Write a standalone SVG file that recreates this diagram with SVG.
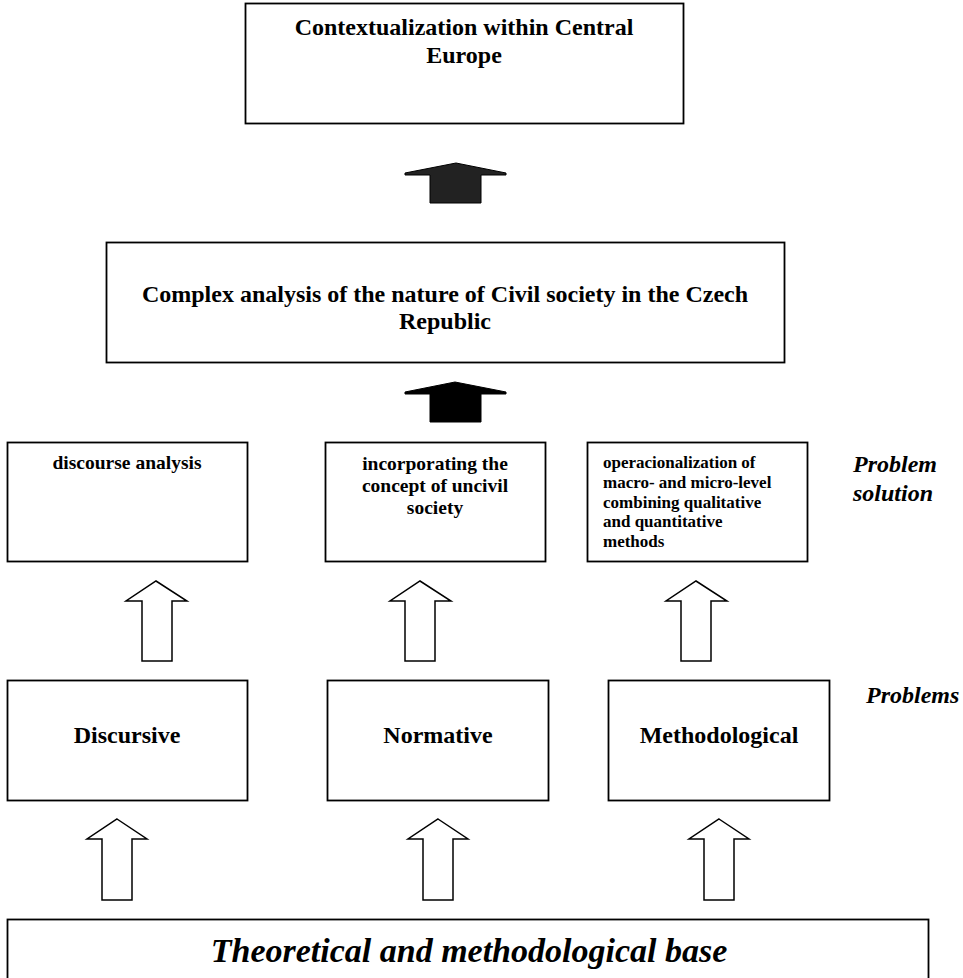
<svg xmlns="http://www.w3.org/2000/svg" width="963" height="978" viewBox="0 0 963 978">
<style>
.box{fill:#fff;stroke:#000;stroke-width:1.8}
.h{font-family:"Liberation Serif","Times New Roman",serif;font-weight:bold;fill:#000}
.hi{font-family:"Liberation Serif","Times New Roman",serif;font-weight:bold;font-style:italic;fill:#000}
.hollow{fill:#fff;stroke:#000;stroke-width:1.5;stroke-linejoin:miter}
.solid{stroke:#000;stroke-width:1}
</style>
<rect width="963" height="978" fill="#fff"/>
<g id="node-context">
<rect class="box" x="245.5" y="3.5" width="438" height="120"/>
<text class="h" font-size="24" text-anchor="middle" x="464" y="35">Contextualization within Central</text>
<text class="h" font-size="24" text-anchor="middle" x="464" y="63">Europe</text>
</g>
<g id="node-complex">
<rect class="box" x="106.5" y="242.5" width="678" height="120"/>
<text class="h" font-size="24" text-anchor="middle" x="445" y="302">Complex analysis of the nature of Civil society in the Czech</text>
<text class="h" font-size="24" text-anchor="middle" x="445" y="329">Republic</text>
</g>
<g id="node-sol1">
<rect class="box" x="7.5" y="442.5" width="240" height="119"/>
<text class="h" font-size="19.5" text-anchor="middle" x="127" y="469">discourse analysis</text>
</g>
<g id="node-sol2">
<rect class="box" x="325.5" y="442.5" width="220" height="119"/>
<text class="h" font-size="19.5" text-anchor="middle" x="435" y="470">incorporating the</text>
<text class="h" font-size="19.5" text-anchor="middle" x="435" y="492">concept of uncivil</text>
<text class="h" font-size="19.5" text-anchor="middle" x="435" y="514">society</text>
</g>
<g id="node-sol3">
<rect class="box" x="587.5" y="442.5" width="220" height="119"/>
<text class="h" font-size="17" x="603" y="468">operacionalization of</text>
<text class="h" font-size="17" x="603" y="488">macro- and micro-level</text>
<text class="h" font-size="17" x="603" y="508">combining qualitative</text>
<text class="h" font-size="17" x="603" y="527">and quantitative</text>
<text class="h" font-size="17" x="603" y="547">methods</text>
</g>
<g id="label-solution">
<text class="hi" font-size="24" x="853" y="472">Problem</text>
<text class="hi" font-size="24" x="853" y="501">solution</text>
</g>
<g id="node-discursive">
<rect class="box" x="7.5" y="680.5" width="240" height="120"/>
<text class="h" font-size="24" text-anchor="middle" x="127" y="743">Discursive</text>
</g>
<g id="node-normative">
<rect class="box" x="327.5" y="680.5" width="221" height="120"/>
<text class="h" font-size="24" text-anchor="middle" x="438" y="743">Normative</text>
</g>
<g id="node-methodological">
<rect class="box" x="608.5" y="680.5" width="221" height="120"/>
<text class="h" font-size="24" text-anchor="middle" x="719" y="743">Methodological</text>
</g>
<g id="label-problems">
<text class="hi" font-size="24" x="866" y="703">Problems</text>
</g>
<g id="node-base">
<rect class="box" x="7.5" y="919.5" width="921" height="80"/>
<text class="hi" font-size="34" text-anchor="middle" x="469" y="962">Theoretical and methodological base</text>
</g>
<g id="connectors">
<polygon class="solid" fill="#222" points="405,173 456,163 506,173 506,175 481,175 481,203 430,203 430,175 405,175"/>
<polygon class="solid" fill="#000" points="405,392 455,382 506,392 506,394 481,394 481,422 430,422 430,394 405,394"/>
<polygon class="hollow" points="156,581 187,601 172,601 172,661 142,661 142,601 126,601"/>
<polygon class="hollow" points="420,581 451,601 435,601 435,661 405,661 405,601 390,601"/>
<polygon class="hollow" points="696,581 727,601 711,601 711,661 681,661 681,601 666,601"/>
<polygon class="hollow" points="117,819 147,839 132,839 132,900 102,900 102,839 87,839"/>
<polygon class="hollow" points="438,819 468,839 453,839 453,900 423,900 423,839 408,839"/>
<polygon class="hollow" points="719,819 749,839 734,839 734,900 704,900 704,839 689,839"/>
</g>
</svg>
